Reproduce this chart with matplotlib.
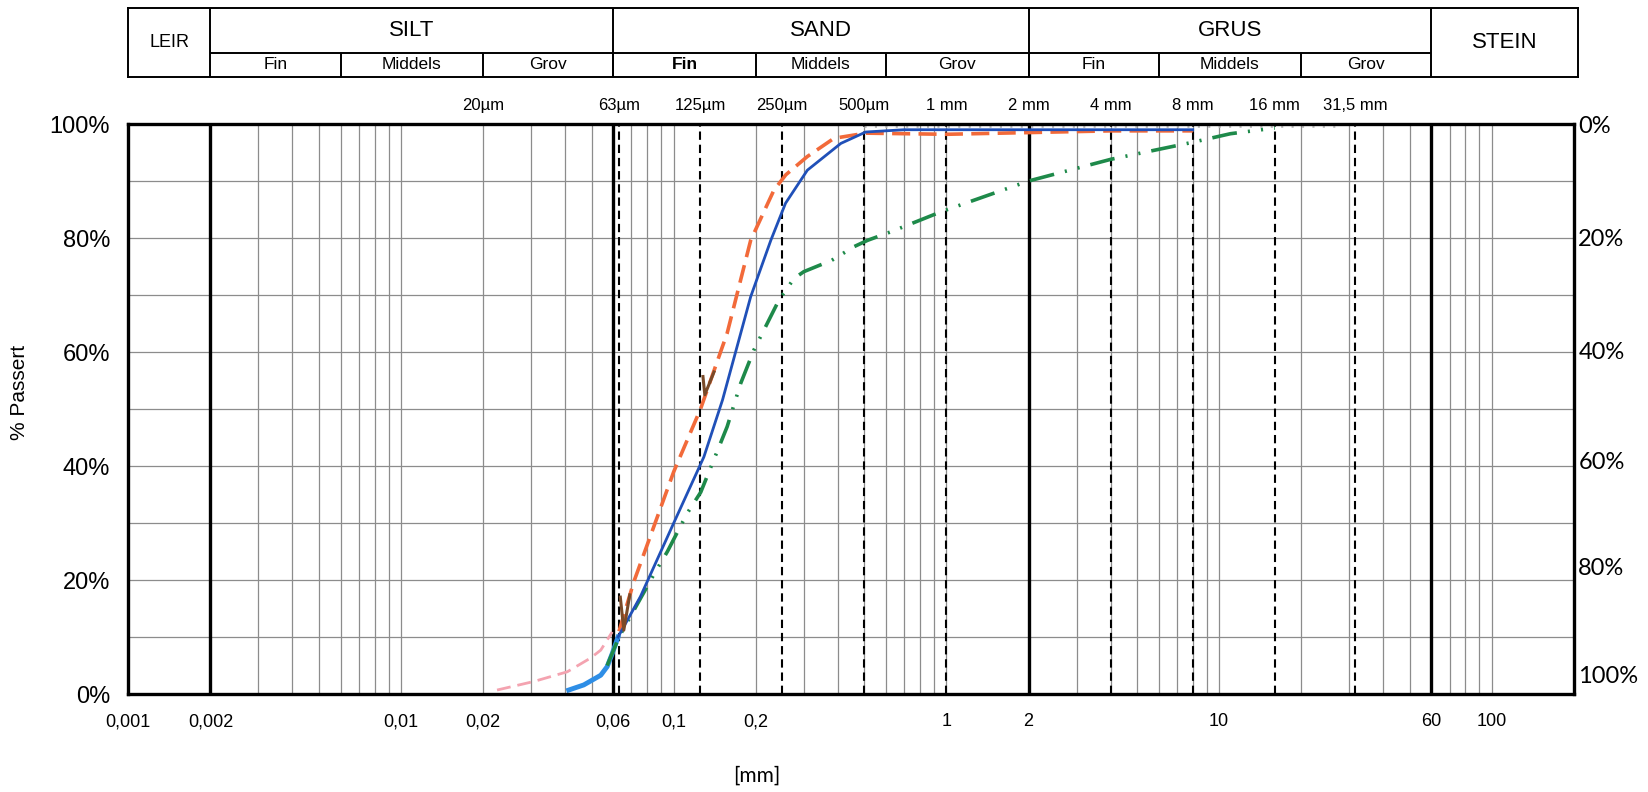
import numpy as np
import matplotlib.pyplot as plt
import matplotlib.transforms as mtransforms
from matplotlib.ticker import NullLocator

plt.rcParams['font.family'] = ['Liberation Sans', 'DejaVu Sans']
plt.rcParams['lines.scale_dashes'] = False

# Axis labels
bottom_ticks = [0.001, 0.002, 0.01, 0.02, 0.06, 0.1, 0.2, 1, 2, 10, 60, 100]
bottom_labels = ['0,001', '0,002', '0,01', '0,02', '0,06', '0,1', '0,2', '1', '2', '10', '60', '100']
top_ticks = [0.02, 0.063, 0.125, 0.25, 0.5, 1, 2, 4, 8, 16, 31.5]
top_labels = ['20µm', '63µm', '125µm', '250µm', '500µm', '1 mm', '2 mm', '4 mm', '8 mm', '16 mm', '31,5 mm']
left_ticks = [0, 20, 40, 60, 80, 100]
left_labels = ['0%', '20%', '40%', '60%', '80%', '100%']
right_ticks = [99.6, 79.7, 60, 40.6, 22.1, 3.1]
right_labels = ['0%', '20%', '40%', '60%', '80%', '100%']

# Sieve sizes (dashed) and class boundaries (thick)
sieve_sizes = [0.063, 0.125, 0.25, 0.5, 1, 4, 8, 16, 31.5]
class_bounds = [0.002, 0.06, 2, 60]

# Header table
main_classes = ['LEIR', 'SILT', 'SAND', 'GRUS', 'STEIN']
class_edges = [0.001, 0.002, 0.06, 2, 60, 207]
sub_classes = ['Fin', 'Middels', 'Grov', 'Fin', 'Middels', 'Grov', 'Fin', 'Middels', 'Grov']
sub_edges = [0.002, 0.006, 0.02, 0.06, 0.2, 0.6, 2, 6, 20, 60]

# Curves: grain size [mm] vs % passing
blue_d = [0.0625, 0.0755, 0.1, 0.129, 0.151, 0.1915, 0.227, 0.257, 0.309, 0.41, 0.506, 0.7, 1.0, 2.0, 4.0, 8.0]
blue_p = [10.0, 17.1, 30.0, 41.6, 51.6, 69.7, 79.6, 86.1, 91.9, 96.6, 98.6, 99.0, 99.0, 99.0, 99.0, 99.0]

lightblue_d = [0.0412, 0.0468, 0.054, 0.057, 0.0595, 0.0625]
lightblue_p = [0.7, 1.6, 3.3, 4.8, 7.1, 10.0]

orange_d = [0.063, 0.0714, 0.1, 0.1256, 0.157, 0.1915, 0.233, 0.2577, 0.309, 0.387, 0.506, 1.0, 2.0, 4.0, 8.0]
orange_p = [11.0, 19.7, 39.0, 50.1, 63.3, 79.6, 88.4, 91.1, 94.3, 97.5, 98.4, 98.2, 98.5, 98.8, 98.8]

pink_d = [0.0225, 0.0307, 0.0407, 0.0495, 0.054, 0.0595]
pink_p = [0.7, 2.2, 3.9, 6.3, 7.7, 10.9]

green_d = [0.057, 0.063, 0.0846, 0.0948, 0.112, 0.1256, 0.157, 0.176, 0.197, 0.243, 0.276, 0.3, 0.38,
           0.459, 0.514, 0.626, 0.955, 2.0, 4.0, 8.0, 11.0, 16.0]
green_p = [5.0, 10.0, 21.0, 25.0, 31.7, 35.4, 46.9, 54.5, 60.4, 69.1, 72.9, 74.1, 76.1,
           78.5, 79.6, 81.1, 84.6, 90.0, 93.8, 96.8, 98.3, 99.3]

brown_d = [0.0637, 0.0656, 0.069, np.nan, 0.128, 0.130, 0.1405]
brown_p = [17.0, 11.2, 17.4, np.nan, 55.7, 52.5, 56.5]

gray_d = [0.5, 28.0]
gray_p = [99.7, 99.7]

fig = plt.figure(figsize=(16.49, 7.92), dpi=100)
ax = fig.add_axes([0.0778, 0.1237, 0.8767, 0.7197])
ax.set_xscale('log')
ax.set_xlim(0.001, 200)
ax.set_ylim(0, 100)

# log grid
for k in range(-3, 3):
    for m in range(1, 10):
        v = m * 10.0 ** k
        if 0.001 < v < 200:
            ax.axvline(v, color='0.55', lw=0.9, zorder=1)
for p in range(10, 100, 10):
    ax.axhline(p, color='0.55', lw=0.9, zorder=1)

for v in sieve_sizes:
    ax.axvline(v, color='k', lw=1.5, ls=(0, (6, 3.5)), zorder=2)
for v in class_bounds:
    ax.axvline(v, color='k', lw=2.4, zorder=2)

ax.plot(gray_d, gray_p, color='#bbbbbb', lw=2, dashes=(1.5, 6), zorder=3)
ax.plot(pink_d, pink_p, color='#f4a3b0', lw=2, dashes=(10, 5), zorder=3)
ax.plot(lightblue_d, lightblue_p, color='#2e8ee6', lw=3.5, zorder=4)
ax.plot(green_d, green_p, color='#1e8a4a', lw=2.6, dashes=(18, 8, 1.5, 8, 1.5, 8), zorder=4)
ax.plot(orange_d, orange_p, color='#f26a3a', lw=2.6, dashes=(13, 6), zorder=5)
ax.plot(blue_d, blue_p, color='#2050b8', lw=2, zorder=6)
ax.plot(brown_d, brown_p, color='#7a4a28', lw=2.2, zorder=7)

for s in ax.spines.values():
    s.set_linewidth(2.4)
    s.set_zorder(8)

ax.set_xticks(bottom_ticks, bottom_labels)
ax.xaxis.set_minor_locator(NullLocator())
ax.tick_params(axis='x', length=0, pad=14, labelsize=13)
ax.set_yticks(left_ticks, left_labels)
ax.tick_params(axis='y', length=0, pad=13, labelsize=17)

trans = mtransforms.blended_transform_factory(ax.transData, ax.transAxes)
for v, lab in zip(top_ticks, top_labels):
    ax.text(v, 1.02, lab, transform=trans, ha='center', va='bottom', fontsize=12)

for v, lab in zip(right_ticks, right_labels):
    ax.text(1.003, v / 100, lab, transform=ax.transAxes, ha='left', va='center',
            fontsize=17, family=['Lato', 'DejaVu Sans'])

fig.text(20 / 1649, 1 - 392 / 792, '% Passert', rotation=90, ha='center', va='center', fontsize=15)
fig.text(757 / 1649, 1 - 776 / 792, '[mm]', ha='center', va='center', fontsize=15,
         family=['Lato', 'DejaVu Sans'])

# header table
axh = fig.add_axes([128.3 / 1649, 1 - 77 / 792, (1578 - 128.3) / 1649, (77 - 8.4) / 792])
axh.set_xscale('log')
axh.set_xlim(class_edges[0], class_edges[-1])
axh.set_ylim(0, 1)
axh.set_xticks([])
axh.set_yticks([])
axh.xaxis.set_minor_locator(NullLocator())
for s in axh.spines.values():
    s.set_linewidth(1.4)
mid = 0.356
axh.vlines(class_edges[1:-1], 0, 1, color='k', lw=1.4)
axh.vlines(sub_edges[1:-1], 0, mid, color='k', lw=1.4)
axh.hlines(mid, class_edges[1], class_edges[-2], color='k', lw=1.4)
for i, name in enumerate(main_classes):
    xc = np.sqrt(class_edges[i] * class_edges[i + 1])
    if name in ('LEIR', 'STEIN'):
        axh.text(xc, 0.5, name, ha='center', va='center', fontsize=13 if name == 'LEIR' else 16)
    else:
        axh.text(xc, (1 + mid) / 2, name, ha='center', va='center', fontsize=16)
for i, name in enumerate(sub_classes):
    xc = np.sqrt(sub_edges[i] * sub_edges[i + 1])
    axh.text(xc, mid / 2, name, ha='center', va='center', fontsize=12.5,
             fontweight='bold' if i == 3 else 'normal')

fig.savefig('out.png', dpi=100)
